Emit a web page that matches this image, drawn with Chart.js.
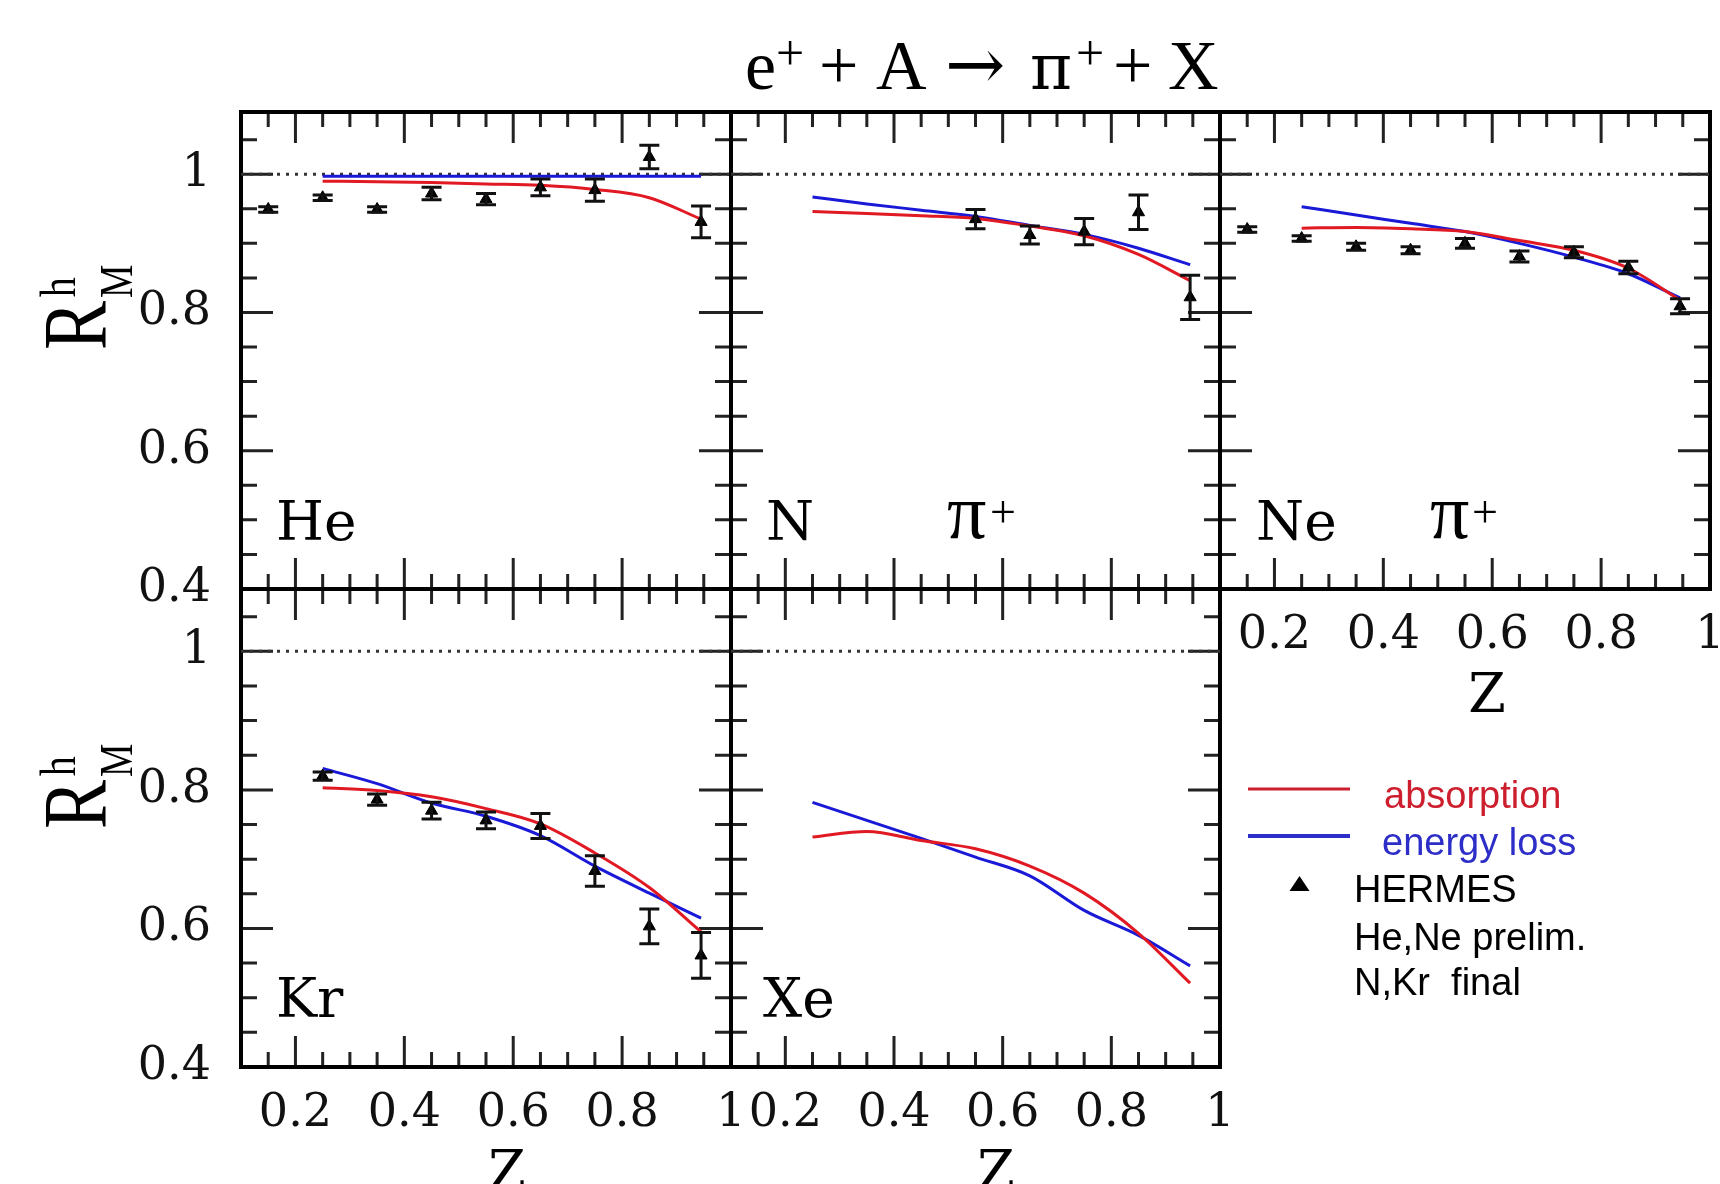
<!DOCTYPE html>
<html>
<head>
<meta charset="utf-8">
<script src="https://cdn.jsdelivr.net/npm/chart.js@4.4.1/dist/chart.umd.min.js"></script>
<style>
  html, body { margin: 0; padding: 0; background: #fff; }
  #page { position: relative; width: 1720px; height: 1184px; overflow: hidden; background: #fff; }
  #page canvas { position: absolute; }
  #notes { position: absolute; left: 0; top: 0; pointer-events: none; }
</style>
</head>
<body>
<div id="page">
  <canvas id="pHe"></canvas>
  <canvas id="pN"></canvas>
  <canvas id="pNe"></canvas>
  <canvas id="pKr"></canvas>
  <canvas id="pXe"></canvas>

  <svg id="notes" width="1720" height="1184" xmlns="http://www.w3.org/2000/svg">
    <!-- title -->
    <text font-family="Liberation Serif" font-size="70" fill="#000">
      <tspan x="745" y="89">e</tspan>
      <tspan x="776" y="70" font-size="50">+</tspan>
      <tspan x="819" y="89">+</tspan>
      <tspan x="876" y="89">A</tspan>
      <tspan x="945" y="89" font-family="DejaVu Serif" font-size="72">→</tspan>
      <tspan x="1030" y="89" font-family="DejaVu Serif" font-size="64">π</tspan>
      <tspan x="1076" y="70" font-size="50">+</tspan>
      <tspan x="1113" y="89">+</tspan>
      <tspan x="1168" y="89">X</tspan>
    </text>

    <!-- y axis titles -->
    <g transform="translate(106,350) rotate(-90) scale(0.8,1)" font-family="Liberation Serif" fill="#000">
      <text x="0" y="0" font-size="92">R</text>
      <text x="66" y="-31" font-size="50">h</text>
      <text x="65" y="26" font-size="47">M</text>
    </g>
    <g transform="translate(106,829) rotate(-90) scale(0.8,1)" font-family="Liberation Serif" fill="#000">
      <text x="0" y="0" font-size="92">R</text>
      <text x="66" y="-31" font-size="50">h</text>
      <text x="65" y="26" font-size="47">M</text>
    </g>

    <!-- panel labels -->
    <g font-family="DejaVu Serif" font-size="55" fill="#000">
      <text x="276" y="540">He</text>
      <text x="766" y="540">N</text>
      <text x="1256" y="540">Ne</text>
      <text x="276" y="1017">Kr</text>
      <text x="763" y="1017">Xe</text>
    </g>
    <g font-family="Liberation Serif" fill="#000">
      <text x="947" y="538" font-size="78">π</text>
      <text x="990" y="527" font-size="46">+</text>
      <text x="1430" y="538" font-size="78">π</text>
      <text x="1472" y="527" font-size="46">+</text>
    </g>

    <!-- x axis titles -->
    <g font-family="DejaVu Serif" font-size="54" fill="#000" text-anchor="middle">
      <text x="1487" y="712">Z</text>
      <text x="507" y="1189">Z</text>
      <text x="996" y="1189">Z</text>
    </g>

    <!-- legend -->
    <g font-family="Liberation Sans" font-size="38">
      <line x1="1248" y1="789" x2="1350" y2="789" stroke="rgb(205,30,45)" stroke-width="3"/>
      <text x="1384" y="808" fill="rgb(205,30,45)">absorption</text>
      <line x1="1248" y1="836" x2="1350" y2="836" stroke="rgb(45,45,200)" stroke-width="4"/>
      <text x="1382" y="855" fill="rgb(45,45,200)">energy loss</text>
      <polygon points="1299.5,876 1309.5,891 1289.5,891" fill="#000"/>
      <text x="1354" y="902" fill="#000">HERMES</text>
      <text x="1354" y="950" fill="#000">He,Ne prelim.</text>
      <text x="1354" y="995" fill="#000" xml:space="preserve">N,Kr  final</text>
    </g>
  </svg>
</div>

<script>
// z positions
const zHermes   = [0.15, 0.25, 0.35, 0.45, 0.55, 0.65, 0.75, 0.85, 0.945];
const zHermesN  = [0.55, 0.65, 0.75, 0.85, 0.945];
const zHermesKr = [0.25, 0.35, 0.45, 0.55, 0.65, 0.75, 0.85, 0.945];
const zModel    = [0.25, 0.35, 0.45, 0.55, 0.65, 0.75, 0.85, 0.945];
const zEdges    = [0.1, 1.0];
const unity     = [1, 1];

// He
const heHermes     = [0.949, 0.966, 0.949, 0.972, 0.964, 0.981, 0.977, 1.025, 0.931];
const heErr        = [0.004, 0.004, 0.004, 0.009, 0.008, 0.012, 0.016, 0.017, 0.023];
const heAbsorption = [0.990, 0.989, 0.988, 0.986, 0.984, 0.978, 0.966, 0.935];
const heEnergyLoss = [0.997, 0.997, 0.997, 0.997, 0.997, 0.997, 0.997, 0.997];

// N
const nHermes     = [0.935, 0.912, 0.917, 0.945, 0.822];
const nErr        = [0.014, 0.013, 0.019, 0.025, 0.032];
const nAbsorption = [0.946, 0.943, 0.940, 0.936, 0.925, 0.911, 0.884, 0.846];
const nEnergyLoss = [0.967, 0.957, 0.948, 0.939, 0.926, 0.913, 0.893, 0.869];

// Ne
const neHermes     = [0.920, 0.907, 0.895, 0.890, 0.900, 0.881, 0.887, 0.865, 0.809];
const neErr        = [0.004, 0.004, 0.005, 0.005, 0.007, 0.008, 0.008, 0.009, 0.011];
const neAbsorption = [0.922, 0.923, 0.921, 0.917, 0.904, 0.890, 0.864, 0.818];
const neEnergyLoss = [0.953, 0.941, 0.929, 0.917, 0.900, 0.880, 0.856, 0.821];

// Kr
const krHermes     = [0.820, 0.786, 0.770, 0.756, 0.748, 0.683, 0.603, 0.561];
const krErr        = [0.006, 0.008, 0.012, 0.012, 0.018, 0.022, 0.025, 0.033];
const krAbsorption = [0.803, 0.799, 0.790, 0.773, 0.751, 0.709, 0.659, 0.595];
const krEnergyLoss = [0.831, 0.809, 0.781, 0.762, 0.734, 0.690, 0.651, 0.615];

// Xe (no data, only models)
const xeAbsorption = [0.732, 0.740, 0.727, 0.715, 0.690, 0.651, 0.593, 0.521];
const xeEnergyLoss = [0.782, 0.756, 0.730, 0.703, 0.676, 0.626, 0.590, 0.546];

// axes
const xTicks = [0.2, 0.4, 0.6, 0.8, 1];
const yTicks = [0.4, 0.6, 0.8, 1];
const xMinor = [0.15, 0.25, 0.3, 0.35, 0.45, 0.5, 0.55, 0.65, 0.7, 0.75, 0.85, 0.9, 0.95];
const yMinor = [0.45, 0.5, 0.55, 0.65, 0.7, 0.75, 0.85, 0.9, 0.95, 1.05];

const RED = 'rgb(225,25,35)';
const BLUE = 'rgb(25,25,215)';
const PAD = {l: 150, r: 50, t: 60, b: 110};
const tickFont = {family: 'DejaVu Serif', size: 46};

// frame + inward ticks on all four sides
const frameTicks = {
  id: 'frameTicks',
  beforeDatasetsDraw(chart) {
    const {ctx, chartArea: a, scales: {x, y}} = chart;
    ctx.save();
    ctx.strokeStyle = '#222';
    ctx.lineWidth = 3;
    ctx.beginPath();
    const xt = (vals, len) => vals.forEach(v => {
      const px = x.getPixelForValue(v);
      ctx.moveTo(px, a.top); ctx.lineTo(px, a.top + len);
      ctx.moveTo(px, a.bottom); ctx.lineTo(px, a.bottom - len);
    });
    const yt = (vals, len) => vals.forEach(v => {
      const py = y.getPixelForValue(v);
      ctx.moveTo(a.left, py); ctx.lineTo(a.left + len, py);
      ctx.moveTo(a.right, py); ctx.lineTo(a.right - len, py);
    });
    xt(xMinor, 15); xt(xTicks, 31);
    yt(yMinor, 16); yt(yTicks, 32);
    ctx.stroke();
    ctx.strokeStyle = '#000';
    ctx.lineWidth = 4;
    ctx.strokeRect(a.left, a.top, a.right - a.left, a.bottom - a.top);
    ctx.restore();
  }
};

// vertical error bars with caps
const errorBars = {
  id: 'errorBars',
  afterDatasetsDraw(chart) {
    const {ctx, scales: {y}} = chart;
    chart.data.datasets.forEach((ds, i) => {
      if (!ds.errors) return;
      const meta = chart.getDatasetMeta(i);
      ctx.save();
      ctx.strokeStyle = '#111';
      ctx.lineWidth = 3;
      ctx.beginPath();
      meta.data.forEach((pt, j) => {
        const v = ds.data[j].y, e = ds.errors[j];
        const top = y.getPixelForValue(v + e), bot = y.getPixelForValue(v - e);
        ctx.moveTo(pt.x, top); ctx.lineTo(pt.x, bot);
        ctx.moveTo(pt.x - 10, top); ctx.lineTo(pt.x + 10, top);
        ctx.moveTo(pt.x - 10, bot); ctx.lineTo(pt.x + 10, bot);
      });
      ctx.stroke();
      ctx.restore();
    });
  }
};

const pts = (xs, ys) => xs.map((x, i) => ({x, y: ys[i]}));

function sets(zData, hermes, err, absorption, energyLoss) {
  const list = [];
  if (hermes) {
    list.push({
      type: 'scatter', label: 'HERMES', data: pts(zData, hermes), errors: err,
      pointStyle: 'triangle', pointRadius: 7, backgroundColor: '#000', borderColor: '#000', borderWidth: 1
    });
  }
  list.push({
    type: 'line', label: 'absorption', data: pts(zModel, absorption),
    borderColor: RED, borderWidth: 3, pointRadius: 0, cubicInterpolationMode: 'monotone', fill: false
  });
  list.push({
    type: 'line', label: 'energy loss', data: pts(zModel, energyLoss),
    borderColor: BLUE, borderWidth: 3, pointRadius: 0, cubicInterpolationMode: 'monotone', fill: false
  });
  list.push({
    type: 'line', label: 'R = 1', data: pts(zEdges, unity),
    borderColor: '#333', borderWidth: 3, borderDash: [3, 6], pointRadius: 0, fill: false
  });
  return list;
}

function panel(id, box, datasets, showX, showY) {
  const cv = document.getElementById(id);
  cv.width = box.w + PAD.l + PAD.r;
  cv.height = box.h + PAD.t + PAD.b;
  cv.style.left = (box.x - PAD.l) + 'px';
  cv.style.top = (box.y - PAD.t) + 'px';
  return new Chart(cv, {
    type: 'scatter',
    data: {datasets},
    options: {
      responsive: false,
      animation: false,
      events: [],
      layout: {padding: {left: 0, right: PAD.r, top: PAD.t, bottom: 0}},
      plugins: {legend: {display: false}, tooltip: {enabled: false}},
      scales: {
        x: {
          type: 'linear', min: 0.1, max: 1.0,
          grid: {display: false, drawTicks: false}, border: {display: false},
          afterBuildTicks: s => { s.ticks = xTicks.map(v => ({value: v})); },
          afterFit: s => { s.height = PAD.b; },
          ticks: {display: showX, autoSkip: false, maxRotation: 0, minRotation: 0, padding: 19,
                  font: tickFont, color: '#111', callback: v => String(v)}
        },
        y: {
          type: 'linear', min: 0.4, max: 1.09,
          grid: {display: false, drawTicks: false}, border: {display: false},
          afterBuildTicks: s => { s.ticks = yTicks.map(v => ({value: v})); },
          afterFit: s => { s.width = PAD.l; },
          ticks: {display: showY, autoSkip: false, padding: 30,
                  font: tickFont, color: '#111', callback: v => String(v)}
        }
      }
    },
    plugins: [frameTicks, errorBars]
  });
}

panel('pHe', {x: 241, y: 112, w: 490, h: 477}, sets(zHermes, heHermes, heErr, heAbsorption, heEnergyLoss), false, true);
panel('pN',  {x: 731, y: 112, w: 489, h: 477}, sets(zHermesN, nHermes, nErr, nAbsorption, nEnergyLoss), false, false);
panel('pNe', {x: 1220, y: 112, w: 490, h: 477}, sets(zHermes, neHermes, neErr, neAbsorption, neEnergyLoss), true, false);
panel('pKr', {x: 241, y: 589, w: 490, h: 478}, sets(zHermesKr, krHermes, krErr, krAbsorption, krEnergyLoss), true, true);
panel('pXe', {x: 731, y: 589, w: 489, h: 478}, sets(null, null, null, xeAbsorption, xeEnergyLoss), true, false);
</script>
</body>
</html>
